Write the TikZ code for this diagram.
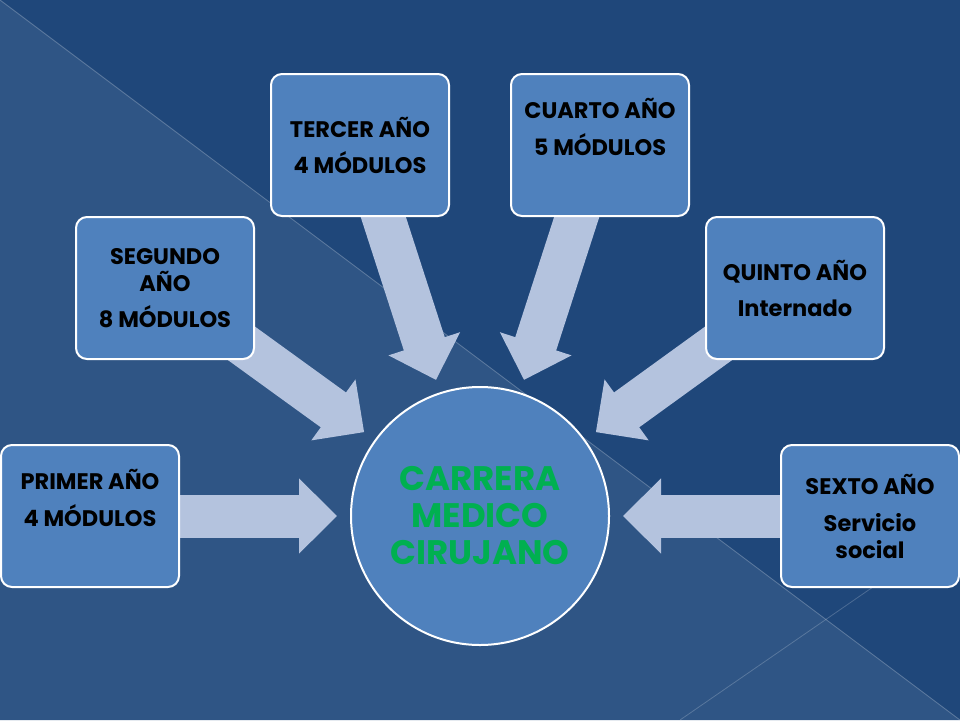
\documentclass[tikz,border=0pt]{standalone}
\usepackage{fontspec}
\setmainfont{Poppins}
\usetikzlibrary{arrows.meta}
\definecolor{bgdark}{HTML}{1F477A}
\definecolor{bglight}{HTML}{2F5585}
\definecolor{boxblue}{HTML}{4F81BD}
\definecolor{arrowblue}{HTML}{B4C3DE}
\definecolor{hubgreen}{HTML}{00B050}
\pgfdeclarelayer{back}
\pgfdeclarelayer{arrows}
\pgfsetlayers{back,arrows,main}

\begin{document}
\begin{tikzpicture}[x=1pt, y=-1pt,
	yearbox/.style={draw=white, line width=2pt, fill=boxblue, rounded corners=11pt,
		minimum width=178pt, minimum height=142pt},
	yeartext/.style={align=center, font=\fontsize{22.5}{27}\selectfont\bfseries},
	bigarrow/.style={arrowblue, line width=43pt,
		-{Triangle[length=38pt, width=73pt]}, shorten >=13pt}]
\useasboundingbox (0, 0) rectangle (960, 720);
\begin{pgfonlayer}{back}
\fill[bgdark] (0, 0) rectangle (960, 720);
\fill[bglight] (0, 0) -- (960, 720) -- (0, 720) -- cycle;
\draw[white, opacity=0.25, line width=0.8pt] (0, 0) -- (960, 720);
\draw[white, opacity=0.2, line width=0.8pt] (680, 720) -- (960, 527);
\end{pgfonlayer}

\node[circle, fill=boxblue, draw=white, line width=2pt, minimum size=258pt, inner sep=0pt,
	align=center, text=hubgreen, font=\fontsize{34}{37}\selectfont\bfseries]
	(hub) at (480, 516) {CARRERA\\MEDICO\\CIRUJANO};

\node[yearbox] (primer) at (90, 516) {};
\node[yearbox] (segundo) at (165, 288) {};
\node[yearbox] (tercer) at (360, 145) {};
\node[yearbox] (cuarto) at (600, 145) {};
\node[yearbox] (quinto) at (795, 288) {};
\node[yearbox] (sexto) at (870, 516) {};

\node[yeartext] (primer-t) at (90, 498) {PRIMER AÑO\\[10pt]4 MÓDULOS};
\node[yeartext] (segundo-t) at (165, 288) {SEGUNDO\\AÑO\\[9pt]8 MÓDULOS};
\node[yeartext] (tercer-t) at (360, 145) {TERCER AÑO\\[9pt]4 MÓDULOS};
\node[yeartext] (cuarto-t) at (600, 127) {CUARTO AÑO\\[10pt]5 MÓDULOS};
\node[yeartext] (quinto-t) at (795, 288) {QUINTO AÑO\\[9pt]Internado};
\node[yeartext] (sexto-t) at (870, 516) {SEXTO AÑO\\[10pt]Servicio\\social};

\begin{pgfonlayer}{arrows}
\foreach \yr in {primer, segundo, tercer, cuarto, quinto, sexto}
	\draw[bigarrow] (\yr.center) -- (hub);
\end{pgfonlayer}
\end{tikzpicture}
\end{document}
